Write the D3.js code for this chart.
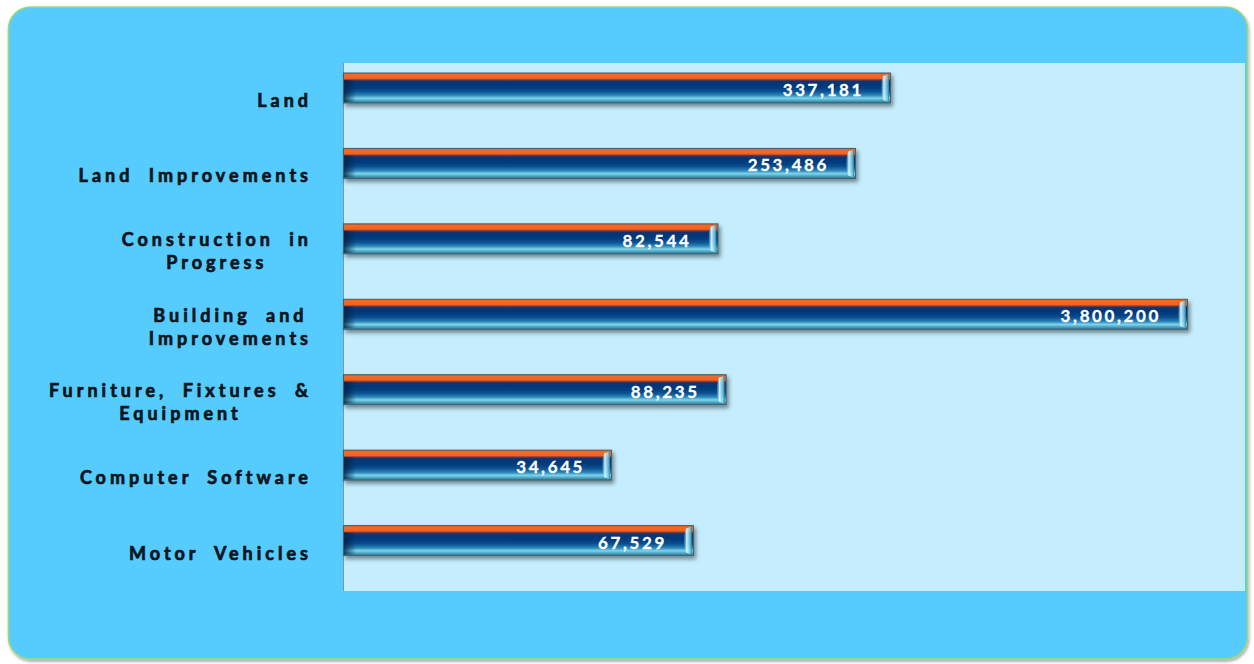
<!DOCTYPE html>
<html>
<head>
<meta charset="utf-8">
<script src="https://cdn.jsdelivr.net/npm/d3@7"></script>
<style>
  html, body { margin: 0; padding: 0; background: #ffffff; }
  svg { display: block; }
</style>
</head>
<body>
<svg id="chart" width="1254" height="664"></svg>
<script>
// Capital asset categories (line breaks mark wrapped labels)
const categories = [
  "Land",
  "Land Improvements",
  "Construction in\nProgress",
  "Building and\nImprovements",
  "Furniture, Fixtures &\nEquipment",
  "Computer Software",
  "Motor Vehicles"
];
// Asset values in dollars
const values = [337181, 253486, 82544, 3800200, 88235, 34645, 67529];
// Log axis limits
const axisMin = 3890;
const axisMax = 6100000;

const data = categories.map((c, i) => ({ category: c, value: values[i] }));

const svg = d3.select("#chart");
const plot = { left: 343, right: 1245, top: 63, bottom: 591 };

const defs = svg.append("defs");

// Bar body: orange cap over a deep-blue tube fading to cyan
const bodyGrad = defs.append("linearGradient")
  .attr("id", "barBody").attr("x1", 0).attr("y1", 0).attr("x2", 0).attr("y2", 1);
[
  [0.00, "#e65a1c"], [0.06, "#f46a26"], [0.18, "#f26222"], [0.23, "#7a3a3a"],
  [0.28, "#0a3372"], [0.45, "#003a7c"], [0.60, "#0a4d8e"], [0.74, "#2a85b8"],
  [0.84, "#7fd3ea"], [0.92, "#4aa6c4"], [1.00, "#2d6f88"]
].forEach(([o, c]) => bodyGrad.append("stop").attr("offset", o).attr("stop-color", c));

// Glassy end cap
const capGrad = defs.append("linearGradient")
  .attr("id", "barCap").attr("x1", 0).attr("y1", 0).attr("x2", 1).attr("y2", 0);
[[0, "#5fc2e0", 0.2], [0.35, "#d8f8ff", 0.95], [0.75, "#7fd6ee", 0.8], [1, "#2f7a96", 0.9]]
  .forEach(([o, c, a]) => capGrad.append("stop").attr("offset", o).attr("stop-color", c).attr("stop-opacity", a));

// Left-edge shading of each bar
const leftGrad = defs.append("linearGradient")
  .attr("id", "barLeft").attr("x1", 0).attr("y1", 0).attr("x2", 1).attr("y2", 0);
[[0, "#02203f", 0.8], [1, "#02203f", 0]]
  .forEach(([o, c, a]) => leftGrad.append("stop").attr("offset", o).attr("stop-color", c).attr("stop-opacity", a));

const shadow = defs.append("filter").attr("id", "barShadow")
  .attr("x", "-5%").attr("y", "-40%").attr("width", "115%").attr("height", "200%");
shadow.append("feGaussianBlur").attr("in", "SourceAlpha").attr("stdDeviation", 2.2);
shadow.append("feOffset").attr("dx", 2).attr("dy", 3).attr("result", "off");
shadow.append("feComponentTransfer").append("feFuncA").attr("type", "linear").attr("slope", 0.45);
const merge = shadow.append("feMerge");
merge.append("feMergeNode");
merge.append("feMergeNode").attr("in", "SourceGraphic");

const panelShadow = defs.append("filter").attr("id", "panelShadow")
  .attr("x", "-2%").attr("y", "-2%").attr("width", "104%").attr("height", "104%");
panelShadow.append("feGaussianBlur").attr("in", "SourceAlpha").attr("stdDeviation", 1.5);
panelShadow.append("feOffset").attr("dx", 1).attr("dy", 1.5);
panelShadow.append("feComponentTransfer").append("feFuncA").attr("type", "linear").attr("slope", 0.35);
const pm = panelShadow.append("feMerge");
pm.append("feMergeNode");
pm.append("feMergeNode").attr("in", "SourceGraphic");

// Outer rounded panel
svg.append("rect")
  .attr("x", 8.5).attr("y", 7).attr("width", 1239).attr("height", 652)
  .attr("rx", 22).attr("ry", 22)
  .attr("fill", "#56cbfd")
  .attr("stroke", "#9ed67c").attr("stroke-width", 1.6)
  .attr("filter", "url(#panelShadow)");

// Plot area
svg.append("rect")
  .attr("x", plot.left).attr("y", plot.top)
  .attr("width", plot.right - plot.left).attr("height", plot.bottom - plot.top)
  .attr("fill", "#c6edfd");

const x = d3.scaleLog().domain([axisMin, axisMax]).range([plot.left, plot.right]);
const y = d3.scaleBand().domain(categories).range([plot.top, plot.bottom]).paddingInner(0);

// Category axis line
svg.append("line")
  .attr("x1", plot.left + 0.5).attr("x2", plot.left + 0.5)
  .attr("y1", plot.top).attr("y2", plot.bottom)
  .attr("stroke", "#7d98a6").attr("stroke-width", 1);

const barH = 30;
const barOffset = 10;

const bars = svg.append("g").selectAll("g.bar").data(data).join("g")
  .attr("class", "bar")
  .attr("transform", d => `translate(0,${y(d.category) + barOffset})`);

bars.append("rect")
  .attr("x", plot.left + 0.5)
  .attr("y", 0)
  .attr("width", d => x(d.value) - plot.left)
  .attr("height", barH)
  .attr("fill", "url(#barBody)")
  .attr("stroke", "#3f6170").attr("stroke-width", 1)
  .attr("filter", "url(#barShadow)");

bars.append("rect")
  .attr("x", plot.left + 1).attr("y", 7)
  .attr("width", 12).attr("height", barH - 8)
  .attr("fill", "url(#barLeft)");

// Glassy end cap
bars.append("path")
  .attr("d", d => {
    const xe = x(d.value);
    return `M${xe - 7},3 L${xe - 1},1 L${xe - 1},${barH - 1} L${xe - 7},${barH - 3}` +
      ` Q${xe - 11},${barH / 2} ${xe - 7},3 Z`;
  })
  .attr("fill", "url(#barCap)");

// Value labels
bars.append("text")
  .attr("x", d => x(d.value) - 26)
  .attr("y", 17)
  .attr("dy", "0.35em")
  .attr("text-anchor", "end")
  .attr("fill", "#ffffff")
  .attr("stroke", "#ffffff").attr("stroke-width", 0.3)
  .attr("font-family", "Lato, 'Open Sans', sans-serif")
  .attr("font-weight", 700)
  .attr("font-size", 17)
  .attr("letter-spacing", "2.6px")
  .text(d => d3.format(",")(d.value));

// Category labels: wrapped lines centred on one another, block right-aligned
const labelRight = 312;
const lineH = 23;
const labels = svg.append("g").selectAll("text.cat").data(categories).join("text")
  .attr("class", "cat")
  .attr("font-family", "Lato, 'Open Sans', sans-serif")
  .attr("font-weight", 700)
  .attr("font-size", 18)
  .attr("letter-spacing", "4px")
  .attr("word-spacing", "7px")
  .attr("fill", "#0c141c")
  .attr("stroke", "#0c141c").attr("stroke-width", 0.7)
  .attr("text-anchor", "middle");

labels.each(function (c) {
  const t = d3.select(this);
  const lines = c.split("\n");
  const cy = y(c) + y.bandwidth() / 2;
  const y0 = cy - (lines.length - 1) * lineH / 2;
  lines.forEach((ln, i) => {
    t.append("tspan").attr("y", y0 + i * lineH).attr("dy", "0.35em").text(ln);
  });
  // widest line decides the block's centre
  let w = 0;
  t.selectAll("tspan").each(function () { w = Math.max(w, this.getComputedTextLength()); });
  t.selectAll("tspan").attr("x", labelRight - w / 2);
});
</script>
</body>
</html>
